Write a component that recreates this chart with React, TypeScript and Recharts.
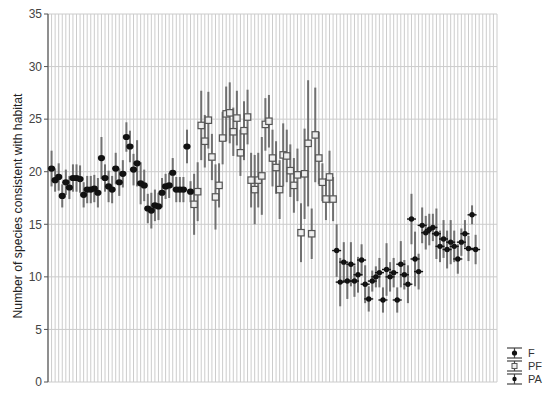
import { ScatterChart, Scatter, XAxis, YAxis, CartesianGrid, ErrorBar } from "recharts";

// group means, one value per site, left to right
const fMeans = [
  20.3, 19.2, 19.5, 17.7, 19.0, 18.5, 19.4, 19.4, 19.3, 17.8,
  18.3, 18.3, 18.4, 18.0, 21.3, 19.4, 18.6, 18.3, 20.3, 19.0,
  19.8, 23.3, 22.4, 20.2, 20.8, 18.9, 18.7, 16.5, 16.3, 16.8,
  16.7, 18.0, 18.6, 18.7, 19.9, 18.3, 18.3, 18.3, 22.4, 18.1,
];
const fErrors = [
  1.7, 1.1, 1.3, 1.1, 1.2, 1.1, 1.3, 1.3, 1.3, 1.2,
  1.3, 1.3, 1.3, 1.4, 2.0, 1.3, 1.5, 1.3, 1.5, 1.3,
  1.3, 1.4, 1.5, 1.5, 2.2, 2.0, 1.5, 1.4, 1.7, 1.5,
  1.3, 1.4, 1.2, 1.2, 1.4, 1.2, 1.2, 1.2, 1.6, 1.0,
];

const pfMeans = [
  16.9, 18.1, 24.4, 22.9, 24.9, 21.4, 17.6, 18.7, 23.2, 25.5,
  25.6, 23.8, 25.1, 21.8, 23.9, 25.2, 19.2, 18.3, 19.2, 19.6,
  24.5, 24.8, 21.3, 20.4, 18.3, 21.6, 21.5, 20.1, 18.7, 19.7,
  14.2, 19.8, 22.7, 14.1, 23.5, 21.3, 19.0, 17.4, 19.5, 17.4,
];
const pfErrors = [
  2.9, 2.8, 3.3, 2.5, 2.7, 2.2, 3.1, 2.1, 2.5, 2.6,
  2.9, 2.3, 2.6, 2.2, 2.8, 2.6, 2.6, 3.3, 2.6, 3.7,
  2.5, 2.5, 2.7, 2.5, 2.8, 3.0, 2.5, 2.5, 2.6, 2.5,
  2.8, 4.3, 6.0, 2.4, 4.5, 2.5, 1.8, 2.0, 2.5, 2.1,
];

const paMeans = [
  12.5, 9.5, 11.4, 9.6, 11.2, 9.6, 10.2, 11.6, 9.3, 7.9,
  9.6, 10.0, 10.4, 7.8, 10.7, 10.0, 10.4, 7.8, 11.2, 10.2,
  9.3, 15.5, 11.7, 10.5, 14.9, 14.2, 14.5, 14.7, 14.1, 12.9,
  13.6, 12.6, 13.3, 12.9, 11.7, 13.3, 14.1, 12.7, 15.9, 12.6,
];
const paErrors = [
  2.5, 2.3, 1.9, 1.7, 2.1, 1.5, 1.7, 1.5, 1.8, 1.2,
  1.0, 1.0, 1.4, 1.2, 2.5, 1.4, 1.4, 1.2, 2.2, 1.4,
  1.8, 2.4, 2.6, 1.7, 1.7, 1.6, 1.5, 1.3, 2.4, 1.5,
  1.8, 1.8, 2.1, 1.5, 1.4, 1.3, 1.3, 1.2, 0.9, 1.4,
];

const yTicks = [0, 5, 10, 15, 20, 25, 30, 35];
const legendLabels = ["F", "PF", "PA"];
const slotCount = 126;

const xTicks = Array.from({ length: slotCount + 1 }, (_, i) => i);

function toPoints(means: number[], errors: number[], offset: number) {
  return means.map((y, i) => ({ x: offset + i + 1, y, err: errors[i] }));
}

const fData = toPoints(fMeans, fErrors, 0);
const pfData = toPoints(pfMeans, pfErrors, fMeans.length);
const paData = toPoints(paMeans, paErrors, fMeans.length + pfMeans.length);

const FONT = "'Liberation Sans', Arial, sans-serif";
const AXIS = "#555";
const BAR = "#707070";

const DotShape = (p: any) => <ellipse cx={p.cx} cy={p.cy} rx={3.6} ry={3.1} fill="#111" />;
const SquareShape = (p: any) => (
  <rect x={p.cx - 3.2} y={p.cy - 3.2} width={6.4} height={6.4} fill="#ededed" stroke="#555" strokeWidth={1.2} />
);
const PaShape = (p: any) => (
  <g>
    <line x1={p.cx - 4.5} x2={p.cx + 4.5} y1={p.cy} y2={p.cy} stroke="#111" strokeWidth={1.4} />
    <circle cx={p.cx} cy={p.cy} r={2.7} fill="#111" />
  </g>
);

const noTick = () => <g />;

function LegendOverlay() {
  const rows = [353, 366, 379];
  return (
    <svg width={550} height={393} style={{ position: "absolute", left: 0, top: 0, pointerEvents: "none" }}>
      {legendLabels.map((name, i) => {
        const cy = rows[i];
        return (
          <g key={name}>
            <line x1={507} x2={522} y1={cy - 5} y2={cy - 5} stroke="#444" strokeWidth={1.2} />
            <line x1={507} x2={522} y1={cy + 5} y2={cy + 5} stroke="#444" strokeWidth={1.2} />
            <line x1={514.5} x2={514.5} y1={cy - 5} y2={cy + 5} stroke="#444" strokeWidth={1.2} />
            {i === 0 && <circle cx={514.5} cy={cy} r={2.6} fill="#111" />}
            {i === 1 && <rect x={512} y={cy - 2.5} width={5} height={5} fill="#eee" stroke="#555" strokeWidth={1} />}
            {i === 2 && <circle cx={514.5} cy={cy} r={2.2} fill="#111" />}
            <text x={528} y={cy + 4} fontSize={11} fontFamily={FONT} fill="#333">
              {name}
            </text>
          </g>
        );
      })}
    </svg>
  );
}

export default function App() {
  return (
    <div style={{ position: "relative", width: 550, height: 393, background: "#fff" }}>
      <style>{`body{margin:0}`}</style>
      <ScatterChart width={550} height={393} margin={{ top: 14, right: 53, bottom: 11, left: 0 }}>
        <CartesianGrid horizontal={{ stroke: "#cdcdcd" } as any} vertical={{ stroke: "#e0e0e0" } as any} />
        <XAxis
          type="number"
          dataKey="x"
          domain={[0, slotCount]}
          ticks={xTicks}
          interval={0}
          height={0}
          mirror
          tickSize={2}
          tick={noTick}
          tickLine={{ stroke: AXIS }}
          axisLine={{ stroke: AXIS, strokeWidth: 1.2 }}
        />
        <XAxis
          xAxisId="top"
          orientation="top"
          type="number"
          domain={[0, slotCount]}
          ticks={xTicks}
          interval={0}
          height={0}
          mirror
          tickSize={2}
          tick={noTick}
          tickLine={{ stroke: AXIS }}
          axisLine={{ stroke: AXIS, strokeWidth: 1.2 }}
        />
        <YAxis
          type="number"
          dataKey="y"
          domain={[0, 35]}
          ticks={yTicks}
          interval={0}
          width={48}
          tickSize={4}
          tick={{ fontSize: 12, fill: "#444", fontFamily: FONT }}
          tickLine={{ stroke: AXIS }}
          axisLine={{ stroke: AXIS, strokeWidth: 1.2 }}
          label={() => (
            <text
              transform="translate(22,206) rotate(-90)"
              textAnchor="middle"
              fontSize={12.2}
              fontFamily={FONT}
              fill="#222"
            >
              Number of species consistent with habitat
            </text>
          )}
        />
        <YAxis
          yAxisId="right"
          orientation="right"
          type="number"
          domain={[0, 35]}
          width={0}
          tick={false}
          tickLine={false}
          axisLine={{ stroke: AXIS, strokeWidth: 1.2 }}
        />
        <Scatter name="F" data={fData} shape={DotShape} isAnimationActive={false}>
          <ErrorBar dataKey="err" direction="y" width={0} stroke={BAR} strokeWidth={2} />
        </Scatter>
        <Scatter name="PF" data={pfData} shape={SquareShape} isAnimationActive={false}>
          <ErrorBar dataKey="err" direction="y" width={0} stroke={BAR} strokeWidth={2} />
        </Scatter>
        <Scatter name="PA" data={paData} shape={PaShape} isAnimationActive={false}>
          <ErrorBar dataKey="err" direction="y" width={0} stroke={BAR} strokeWidth={2} />
        </Scatter>
      </ScatterChart>
      <LegendOverlay />
    </div>
  );
}
